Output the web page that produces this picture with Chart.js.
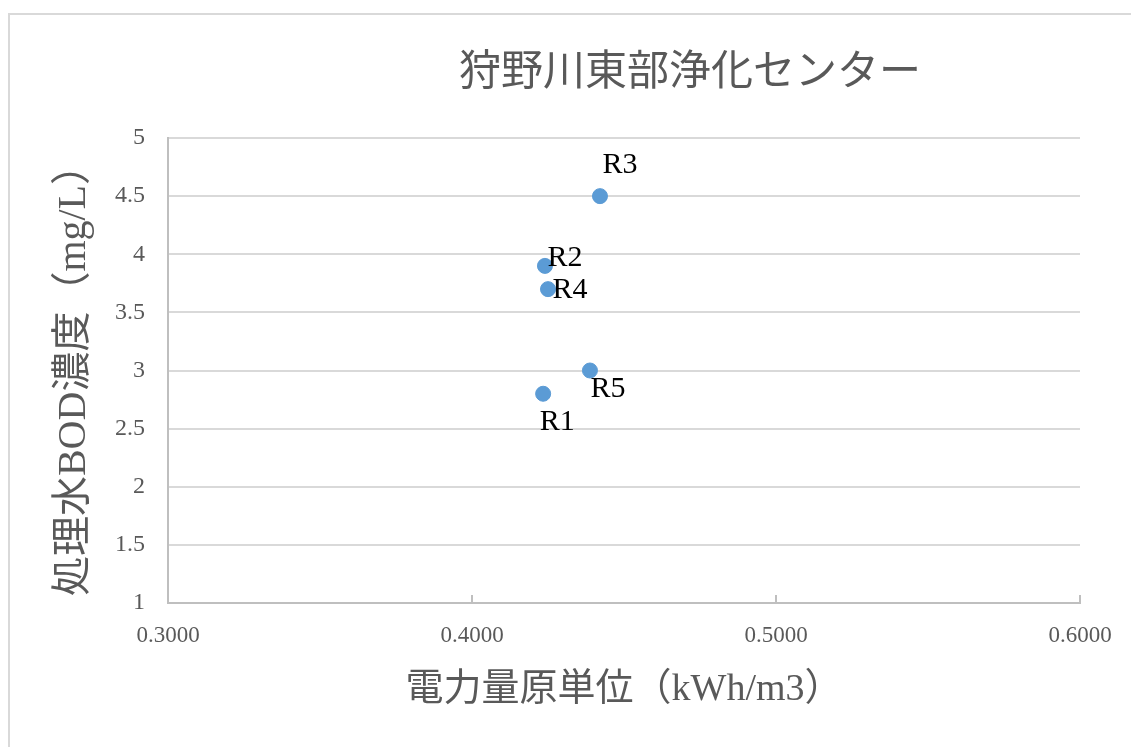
<!DOCTYPE html>
<html>
<head>
<meta charset="utf-8">
<script src="https://cdn.jsdelivr.net/npm/chart.js@4.4.1/dist/chart.umd.min.js"></script>
<style>
html,body{margin:0;padding:0;background:#fff;}
#wrap{position:relative;width:1131px;height:747px;}
canvas{display:block;}
</style>
</head>
<body>
<div id="wrap"><canvas id="c" width="1131" height="747"></canvas></div>
<script>
// ---- data ----
const pointLabels = ['R1', 'R2', 'R3', 'R4', 'R5'];
const powerUnit = [0.4234, 0.4240, 0.4421, 0.4250, 0.4388];   // 電力量原単位 (kWh/m3)
const bodConc   = [2.8, 3.9, 4.5, 3.7, 3.0];                  // 処理水BOD濃度 (mg/L)
const xTicks = [0.3, 0.4, 0.5, 0.6];
const yTicks = [1, 1.5, 2, 2.5, 3, 3.5, 4, 4.5, 5];
const chartTitle = '狩野川東部浄化センター';
const xTitle = '電力量原単位（kWh/m3）';
const yTitle = '処理水BOD濃度（mg/L）';

const points = powerUnit.map((x, i) => ({x: x, y: bodConc[i]}));

const TEXT = '#595959';
const SERIF = "'Liberation Serif', 'Noto Sans CJK JP', serif";

const framePlugin = {
  id: 'frame',
  beforeDraw(chart) {
    const ctx = chart.ctx;
    ctx.save();
    ctx.fillStyle = '#fff';
    ctx.fillRect(0, 0, chart.width, chart.height);
    ctx.strokeStyle = '#d9d9d9';
    ctx.lineWidth = 2;
    ctx.beginPath();
    ctx.moveTo(9, chart.height);
    ctx.lineTo(9, 14);
    ctx.lineTo(chart.width, 14);
    ctx.stroke();
    ctx.restore();
  },
  afterDraw(chart) {
    const ctx = chart.ctx;
    const a = chart.chartArea;
    ctx.save();
    ctx.fillStyle = TEXT;
    ctx.font = "42px " + SERIF;
    ctx.textAlign = 'center';
    ctx.textBaseline = 'middle';
    ctx.fillText(chartTitle, a.left + (a.right - a.left) / 2 + 66, 74);
    ctx.restore();
  }
};

// small inward tick marks on the horizontal axis (Excel style)
const innerTicksPlugin = {
  id: 'innerTicks',
  afterDatasetsDraw(chart) {
    const ctx = chart.ctx;
    const xs = chart.scales.x;
    const a = chart.chartArea;
    ctx.save();
    ctx.strokeStyle = '#bfbfbf';
    ctx.lineWidth = 2;
    ctx.beginPath();
    xTicks.forEach(v => {
      const px = xs.getPixelForValue(v);
      ctx.moveTo(px, a.bottom);
      ctx.lineTo(px, a.bottom - 8);
    });
    ctx.stroke();
    ctx.restore();
  }
};

const labelPlugin = {
  id: 'ptLabels',
  afterDatasetsDraw(chart, args, opts) {
    const ctx = chart.ctx;
    const meta = chart.getDatasetMeta(0);
    ctx.save();
    ctx.fillStyle = '#000';
    ctx.font = opts.font;
    ctx.textAlign = 'center';
    ctx.textBaseline = 'middle';
    meta.data.forEach((el, i) => {
      const off = opts.offsets[i];
      ctx.fillText(pointLabels[i], el.x + off[0], el.y + off[1]);
    });
    ctx.restore();
  }
};

new Chart(document.getElementById('c'), {
  type: 'scatter',
  data: {
    datasets: [{
      data: points,
      backgroundColor: '#5b9bd5',
      borderColor: '#5b9bd5',
      pointRadius: 7.5,
      pointHoverRadius: 7.5
    }]
  },
  options: {
    responsive: false,
    animation: false,
    events: [],
    layout: { padding: { left: 50, right: 51, top: 138, bottom: 34 } },
    plugins: {
      legend: { display: false },
      tooltip: { enabled: false },
      ptLabels: {
        font: "30px " + SERIF,
        offsets: [[14, 28], [20, -8], [20, -31], [22, 1], [18, 19]]
      }
    },
    scales: {
      x: {
        type: 'linear',
        min: 0.3, max: 0.6,
        afterBuildTicks(scale) { scale.ticks = xTicks.map(v => ({value: v})); },
        afterFit(scale) { scale.height = 110; },
        grid: { display: true, drawOnChartArea: false, drawTicks: false },
        border: { display: true, color: '#bfbfbf', width: 2 },
        ticks: {
          color: TEXT,
          font: { family: SERIF, size: 23 },
          padding: 19,
          maxRotation: 0,
          callback: v => Number(v).toFixed(4)
        },
        title: {
          display: true,
          text: xTitle,
          color: TEXT,
          font: { family: SERIF, size: 38, lineHeight: 1.2 },
          padding: { top: 0, bottom: 0 }
        }
      },
      y: {
        type: 'linear',
        min: 1, max: 5,
        afterBuildTicks(scale) { scale.ticks = yTicks.map(v => ({value: v})); },
        afterFit(scale) { scale.width = 118; },
        grid: { color: '#d9d9d9', lineWidth: 2, drawTicks: false },
        border: { display: true, color: '#bfbfbf', width: 2 },
        ticks: {
          color: TEXT,
          font: { family: SERIF, size: 24 },
          padding: 23,
          callback: v => String(v)
        },
        title: {
          display: true,
          text: yTitle,
          color: TEXT,
          font: { family: SERIF, size: 40, lineHeight: 1.2 },
          padding: { top: 0, bottom: 0 }
        }
      }
    }
  },
  plugins: [framePlugin, innerTicksPlugin, labelPlugin]
});
</script>
</body>
</html>
